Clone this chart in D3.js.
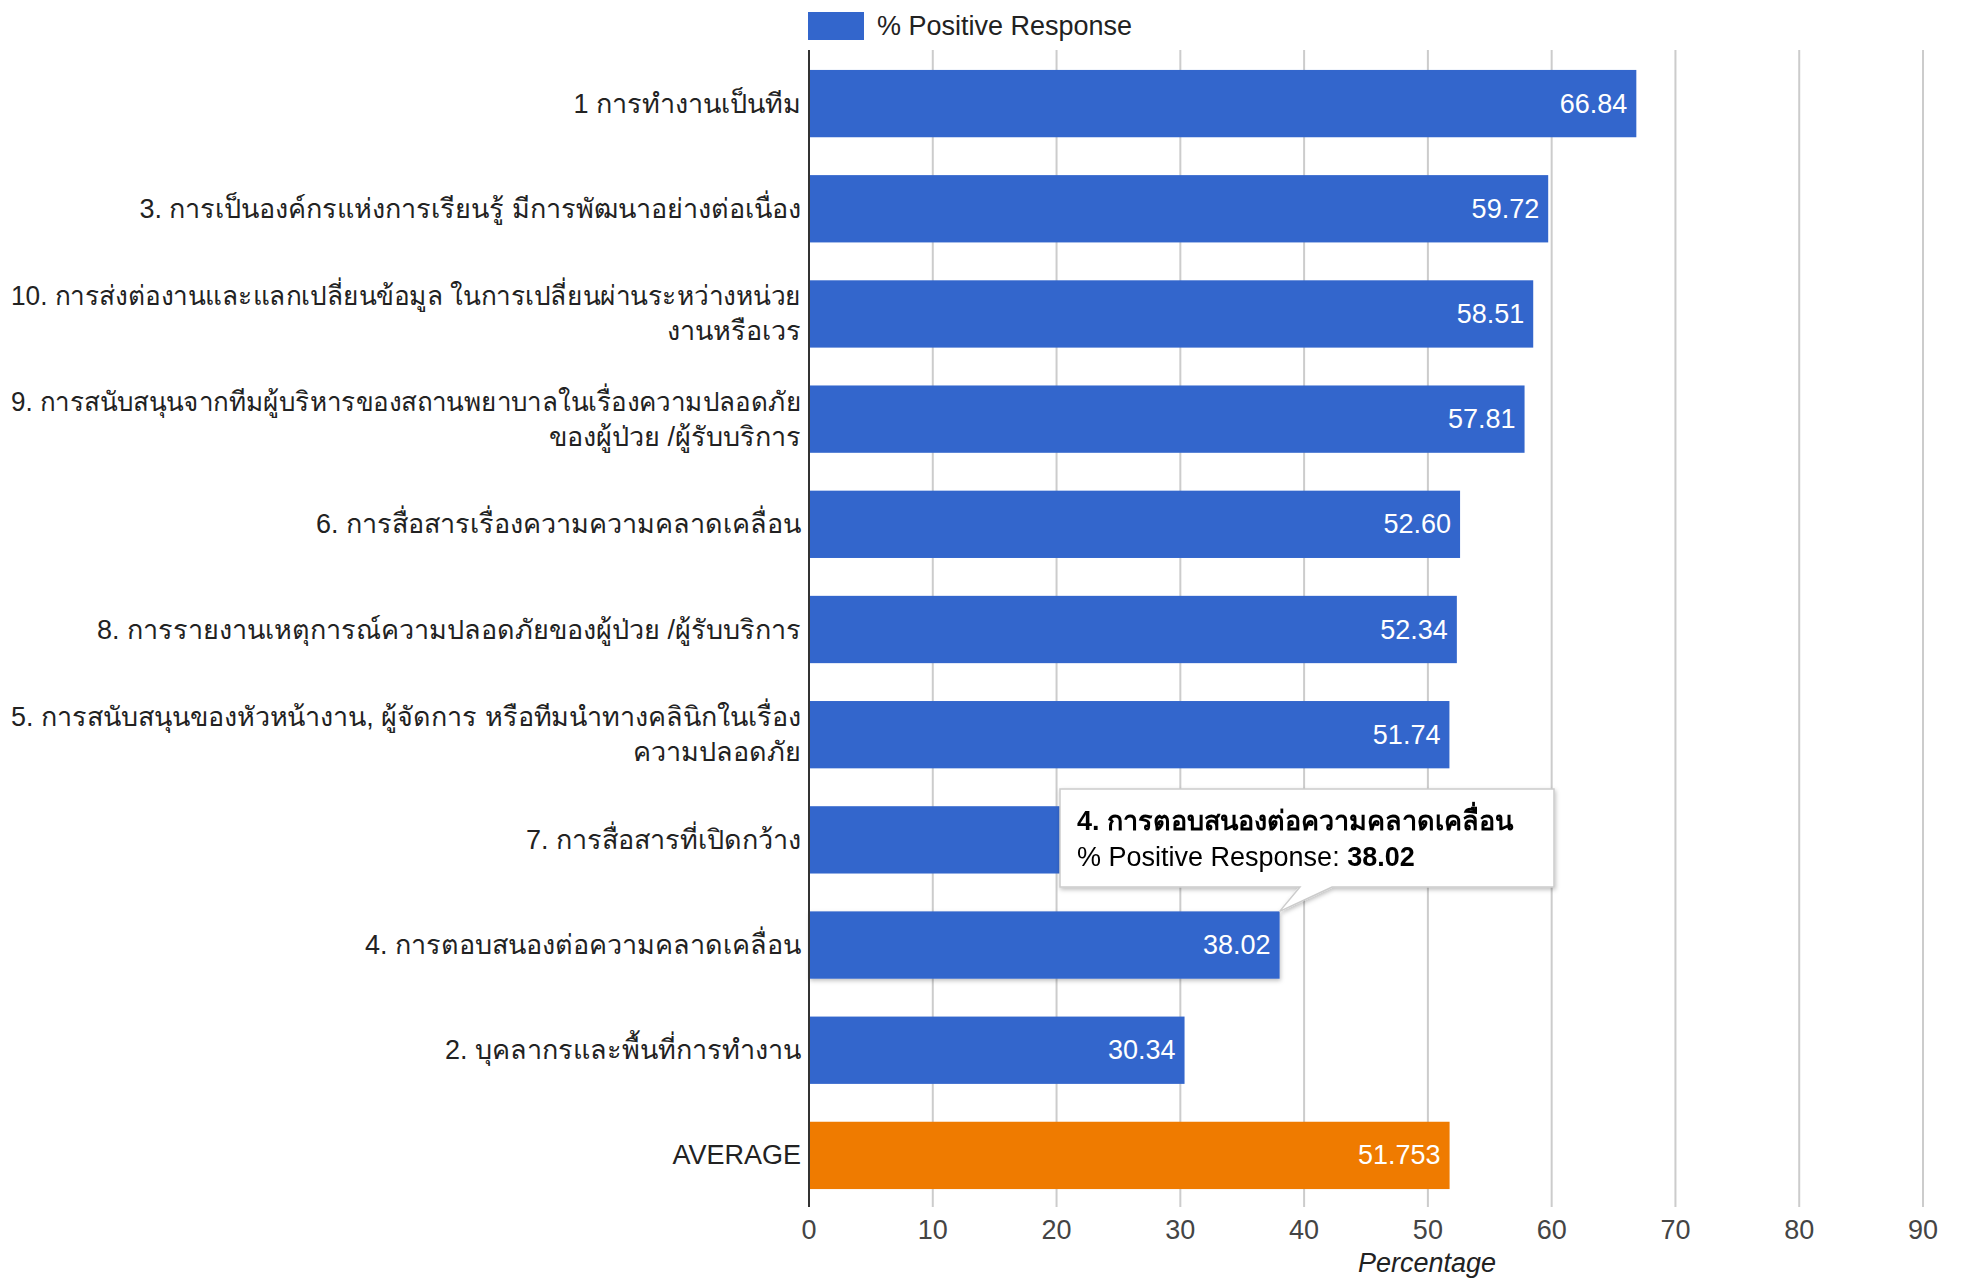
<!DOCTYPE html>
<html>
<head>
<meta charset="utf-8">
<script src="https://cdn.jsdelivr.net/npm/d3@7"></script>
<style>
  body { margin: 0; background: #fff; }
  svg { font-family: Arial, "Liberation Sans", sans-serif; }
</style>
</head>
<body>
<div id="chart"></div>
<script>
// categories (top to bottom), each label split into display lines
const categories = [
    ["1 การทำงานเป็นทีม"],
    ["3. การเป็นองค์กรแห่งการเรียนรู้ มีการพัฒนาอย่างต่อเนื่อง"],
    ["10. การส่งต่องานและแลกเปลี่ยนข้อมูล ในการเปลี่ยนผ่านระหว่างหน่วย", "งานหรือเวร"],
    ["9. การสนับสนุนจากทีมผู้บริหารของสถานพยาบาลในเรื่องความปลอดภัย", "ของผู้ป่วย /ผู้รับบริการ"],
    ["6. การสื่อสารเรื่องความความคลาดเคลื่อน"],
    ["8. การรายงานเหตุการณ์ความปลอดภัยของผู้ป่วย /ผู้รับบริการ"],
    ["5. การสนับสนุนของหัวหน้างาน, ผู้จัดการ หรือทีมนำทางคลินิกในเรื่อง", "ความปลอดภัย"],
    ["7. การสื่อสารที่เปิดกว้าง"],
    ["4. การตอบสนองต่อความคลาดเคลื่อน"],
    ["2. บุคลากรและพื้นที่การทำงาน"],
    ["AVERAGE"]
];
const values = [66.84, 59.72, 58.51, 57.81, 52.60, 52.34, 51.74, 49.61, 38.02, 30.34, 51.753];
const valueLabels = ["66.84", "59.72", "58.51", "57.81", "52.60", "52.34", "51.74", "49.61", "38.02", "30.34", "51.753"];
const barColors = ["#3366cc", "#3366cc", "#3366cc", "#3366cc", "#3366cc", "#3366cc", "#3366cc", "#3366cc", "#3366cc", "#3366cc", "#ef7b00"];
const xTicks = [0, 10, 20, 30, 40, 50, 60, 70, 80, 90];
const seriesName = "% Positive Response";
const axisTitle = "Percentage";
const hovered = 8;   // tooltip shown for this bar
const coveredBar = 7; // its value label sits under the tooltip

const W = 1961, H = 1284;
const plotLeft = 809, plotRight = 1923, plotTop = 51, plotBottom = 1208;
const fs = "27px";

const svg = d3.select("#chart").append("svg")
    .attr("width", W).attr("height", H);

const defs = svg.append("defs");
const sh = defs.append("filter").attr("id", "shadow")
    .attr("x", "-10%").attr("y", "-10%").attr("width", "130%").attr("height", "140%");
sh.append("feDropShadow").attr("dx", 1).attr("dy", 2).attr("stdDeviation", 2)
    .attr("flood-color", "#000").attr("flood-opacity", 0.25);

const x = d3.scaleLinear().domain([0, 90]).range([plotLeft, plotRight]);
const y = d3.scaleBand()
    .domain(d3.range(categories.length))
    .range([plotTop, plotBottom])
    .paddingInner(0.36)
    .paddingOuter(0.18);

// gridlines
svg.append("g")
    .selectAll("line")
    .data(xTicks.slice(1))
    .join("line")
    .attr("x1", d => x(d)).attr("x2", d => x(d))
    .attr("y1", 50).attr("y2", 1207)
    .attr("stroke", "#cccccc").attr("stroke-width", 2);

// tick labels
svg.append("g")
    .selectAll("text")
    .data(xTicks)
    .join("text")
    .attr("x", d => x(d))
    .attr("y", 1239)
    .attr("text-anchor", "middle")
    .attr("fill", "#444")
    .style("font-size", fs)
    .text(d => d);

svg.append("text")
    .attr("x", 1427).attr("y", 1272)
    .attr("text-anchor", "middle")
    .attr("fill", "#222")
    .style("font-size", fs)
    .style("font-style", "italic")
    .text(axisTitle);

// bars
svg.append("g")
    .selectAll("rect")
    .data(values)
    .join("rect")
    .attr("x", x(0))
    .attr("y", (d, i) => y(i))
    .attr("width", d => x(d) - x(0))
    .attr("height", y.bandwidth())
    .attr("fill", (d, i) => barColors[i])
    .attr("filter", (d, i) => i === hovered ? "url(#shadow)" : null);

// value labels inside bars (the one hidden by the tooltip is skipped)
svg.append("g")
    .selectAll("text")
    .data(values.map((v, i) => ({ v, i })).filter(d => d.i !== coveredBar))
    .join("text")
    .attr("x", d => x(d.v) - 9)
    .attr("y", d => y(d.i) + y.bandwidth() / 2 + 9)
    .attr("text-anchor", "end")
    .attr("fill", "#fff")
    .style("font-size", fs)
    .text(d => valueLabels[d.i]);

// category labels, squeezed when the Thai fallback font runs too wide
const lineH = 35, maxLabelW = 790;
const catG = svg.append("g");
categories.forEach((lines, i) => {
    const cy = y(i) + y.bandwidth() / 2;
    lines.forEach((ln, k) => {
        const t = catG.append("text")
            .attr("x", 801)
            .attr("y", cy + 9 + (k - (lines.length - 1) / 2) * lineH)
            .attr("text-anchor", "end")
            .attr("fill", "#222")
            .style("font-size", fs)
            .text(ln);
        if (t.node().getComputedTextLength() > maxLabelW) {
            t.attr("textLength", maxLabelW).attr("lengthAdjust", "spacingAndGlyphs");
        }
    });
});

// zero axis line
svg.append("line")
    .attr("x1", x(0)).attr("x2", x(0))
    .attr("y1", 50).attr("y2", 1207)
    .attr("stroke", "#333").attr("stroke-width", 2);

// legend
svg.append("rect")
    .attr("x", 808).attr("y", 12).attr("width", 56).attr("height", 28)
    .attr("fill", barColors[0]);
svg.append("text")
    .attr("x", 877).attr("y", 35)
    .attr("fill", "#222")
    .style("font-size", fs)
    .text(seriesName);

// tooltip
const tipX = x(values[hovered]), tipY = y(hovered);
const bx0 = 1060, by0 = 789, bx1 = 1554, by1 = 887;
const tip = svg.append("g").attr("filter", "url(#shadow)");
tip.append("path")
    .attr("d", `M${bx0},${by0} H${bx1} V${by1} H${bx0 + 272} L${tipX},${tipY} L${bx0 + 240},${by1} H${bx0} Z`)
    .attr("fill", "#fff")
    .attr("stroke", "#cccccc")
    .attr("stroke-width", 1.5);
tip.append("text")
    .attr("x", 1077).attr("y", 830)
    .attr("fill", "#000")
    .style("font-size", fs)
    .style("font-weight", "bold")
    .text(categories[hovered].join(" "));
const t2 = tip.append("text")
    .attr("x", 1077).attr("y", 866)
    .attr("fill", "#000")
    .style("font-size", fs);
t2.append("tspan").text(seriesName + ": ");
t2.append("tspan").style("font-weight", "bold").text(valueLabels[hovered]);
</script>
</body>
</html>
